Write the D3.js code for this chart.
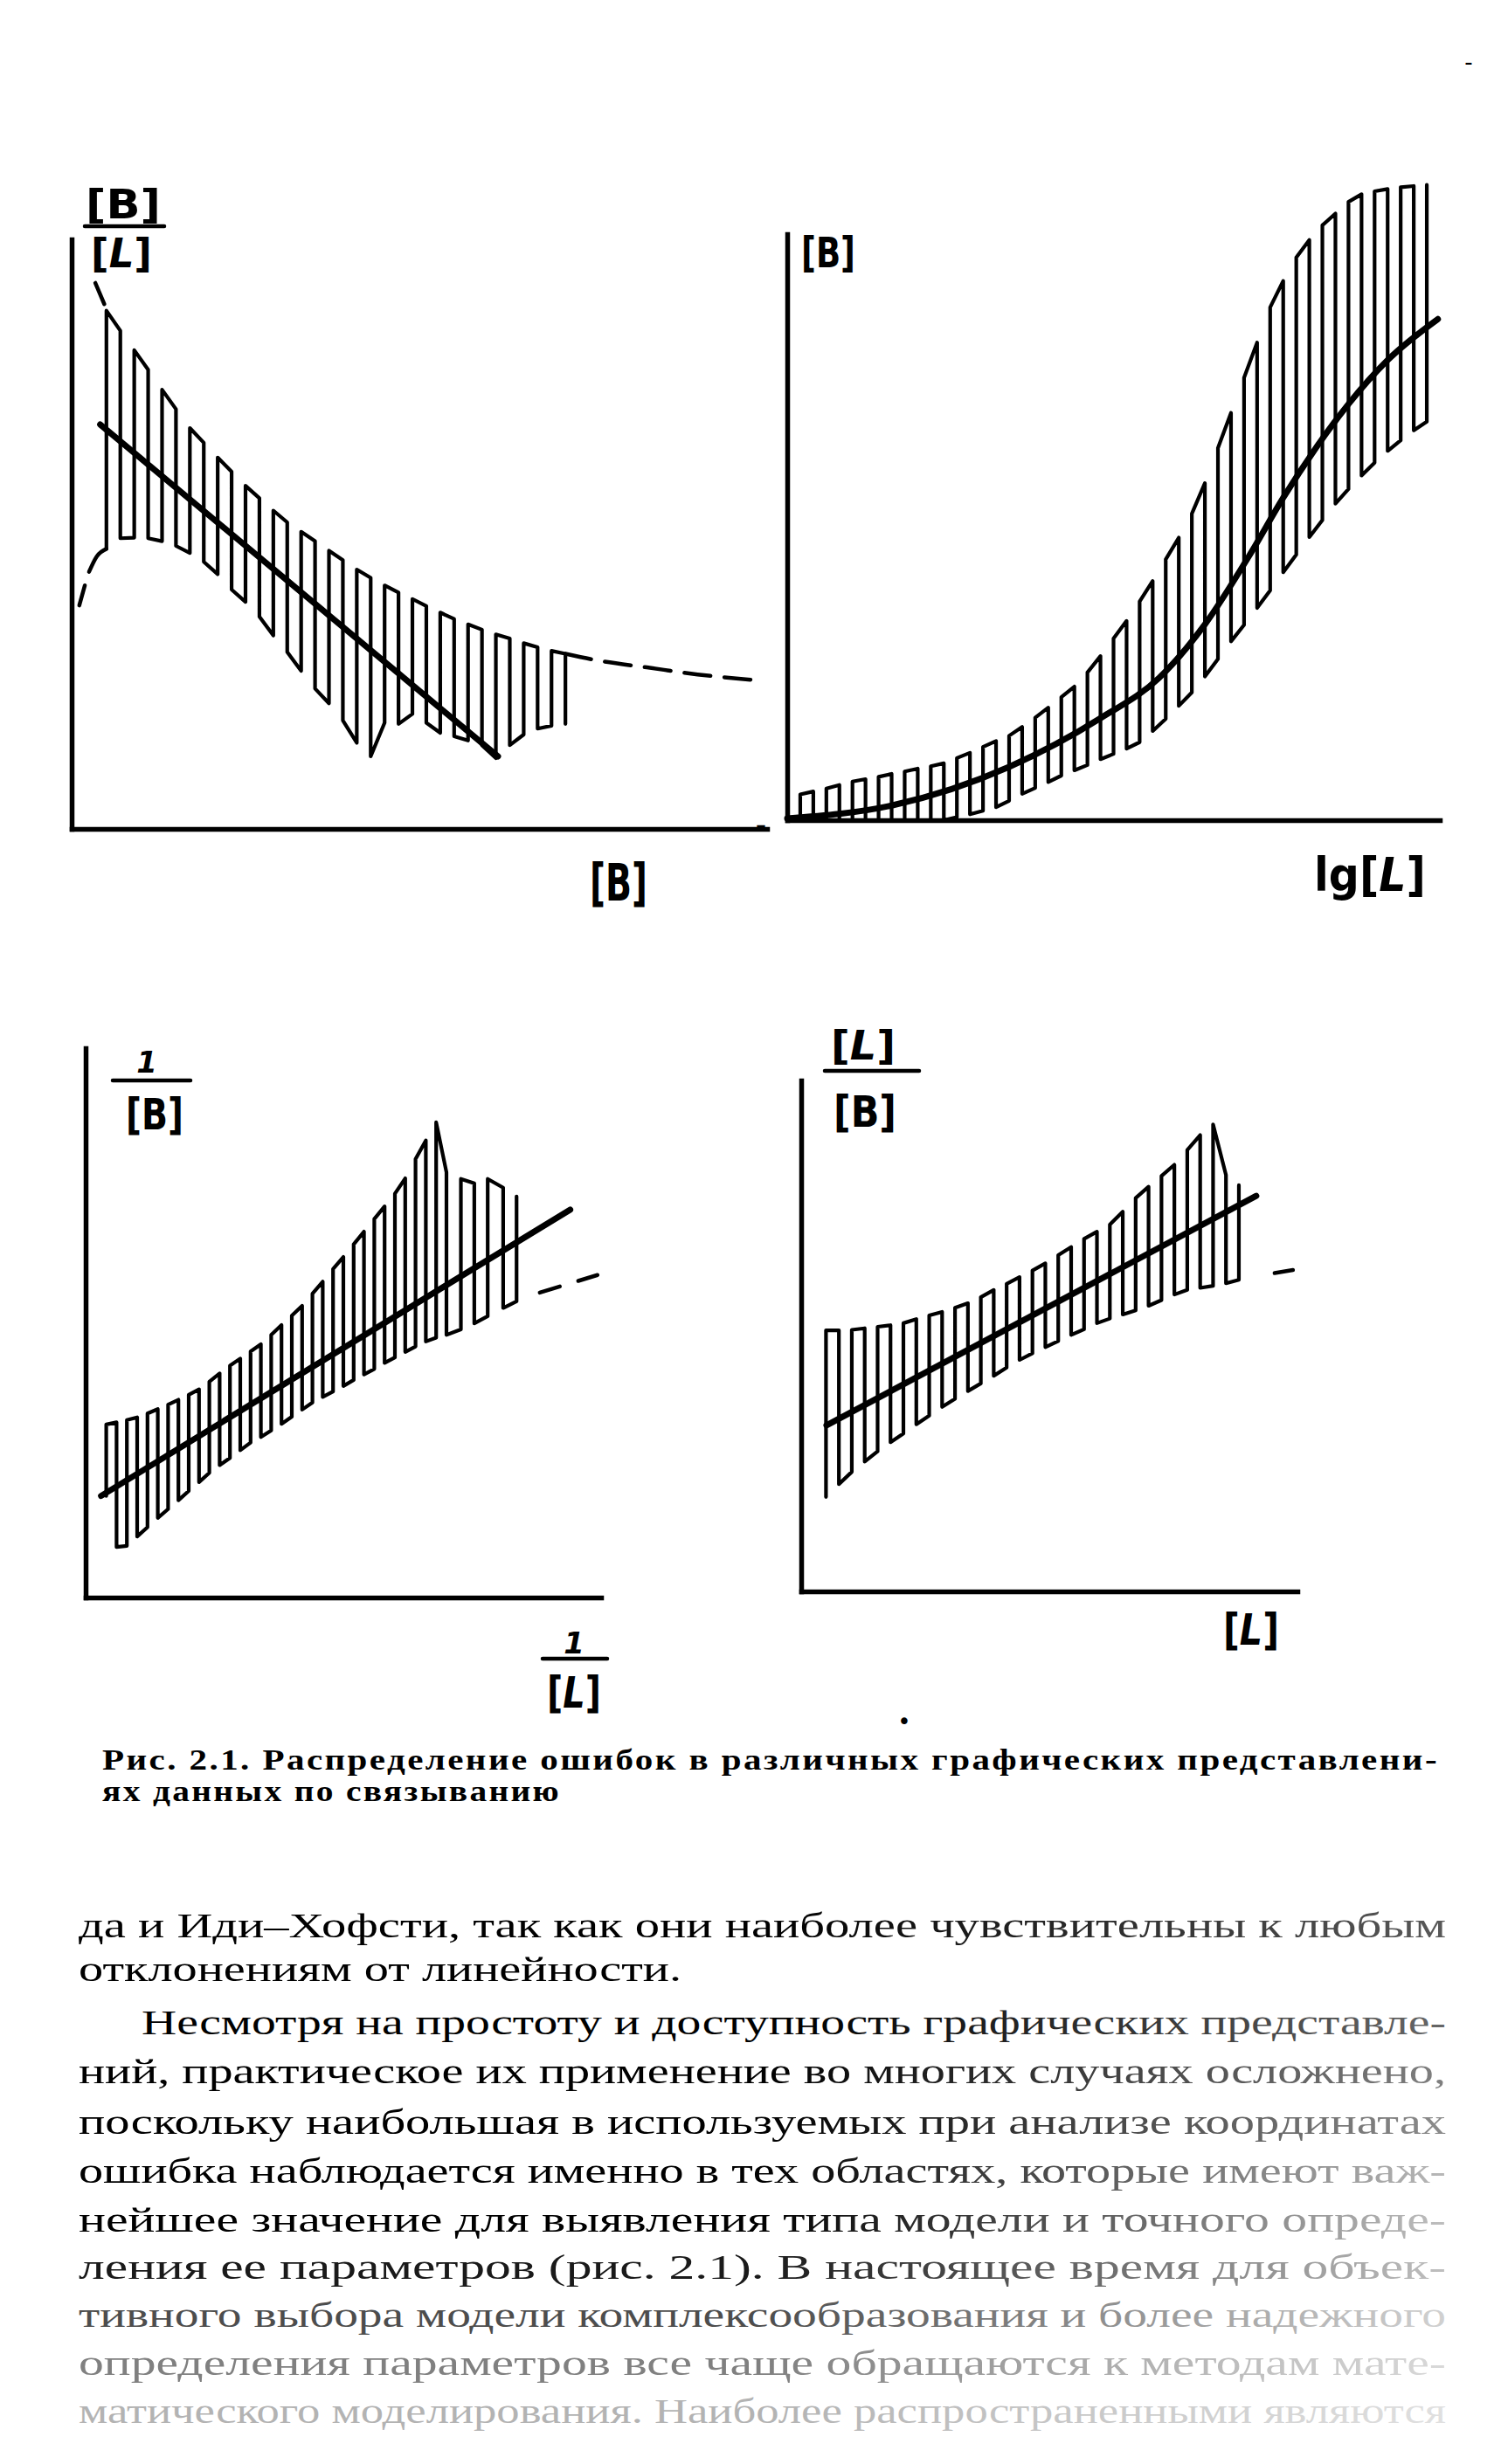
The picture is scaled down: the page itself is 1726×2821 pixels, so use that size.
<!DOCTYPE html>
<html lang="ru"><head><meta charset="utf-8"><title>Рис. 2.1</title>
<script src="https://cdn.jsdelivr.net/npm/d3@7/dist/d3.min.js"></script>
<style>html,body{margin:0;padding:0;background:#fff;}svg{display:block;}</style>
</head><body>
<svg id="page" width="1726" height="2821" viewBox="0 0 1726 2821"></svg>
<script>
// ================= DATA (each panel in its own axis units, 0–100) =================
// Panel 1: [B]/[L] vs [B]
const p1BarX   = [5,7,9,11,13,15,17,19,21,23,25,27,29,31,33,35,37,39,41,43,45,47,49,51,53,55,57,59,61,63,65,67,69,71];
const p1BarTop = [87.9,84.5,81.2,77.9,74.5,71.2,68.0,65.5,63.0,60.6,58.2,56.1,54.0,52.0,50.4,48.8,47.2,45.6,44.0,42.6,41.3,40.1,39.0,37.8,36.7,35.6,34.7,33.8,33.0,32.3,31.5,30.8,30.2,29.7];
const p1BarBot = [47.5,49.3,49.4,49.3,48.8,48.0,46.8,45.3,43.2,40.6,38.5,36.0,32.8,30.0,26.8,23.8,21.3,18.4,14.6,12.3,18.0,17.8,19.5,18.0,16.3,15.7,15.0,14.2,12.0,14.2,16.0,17.0,17.5,17.8];
const p1CenterX = [4.1, 61.3];
const p1CenterY = [68.6, 12.3];
const p1UpperTailX = [71, 76, 82.7, 90, 98.7];
const p1UpperTailY = [29.7, 28.5, 27.4, 26.2, 25.2];
const p1UpperHeadX = [3.4, 4.7];
const p1UpperHeadY = [92.6, 89.0];
const p1LowerHeadX = [1.1, 1.9];
const p1LowerHeadY = [37.9, 41.3];
const p1LowerArcX = [2.5, 3.6, 5.0];
const p1LowerArcY = [43.6, 46.2, 47.5];

// Panel 2: [B] vs lg[L]
const p2BarX   = [2,4,6,8,10,12,14,16,18,20,22,24,26,28,30,32,34,36,38,40,42,44,46,48,50,52,54,56,58,60,62,64,66,68,70,72,74,76,78,80,82,84,86,88,90,92,94,96,98];
const p2BarTop = [4.4,4.9,5.4,6.0,6.6,7.0,7.4,7.9,8.3,8.8,9.2,9.7,10.6,11.5,12.5,13.5,14.4,15.9,17.5,19.2,21.0,22.8,25.2,28.0,31.0,34.0,37.3,40.8,44.5,48.2,52.3,57.5,63.5,69.5,75.5,81.5,87.5,92.0,96.0,99.0,101.5,103.5,105.5,106.8,107.3,107.7,108.0,108.2,108.4];
const p2BarBot = [0,0,0,0,0,0,0,0,0,0,0,0,0.5,1.0,1.6,2.2,3.3,4.5,5.5,6.5,7.6,8.5,9.4,10.4,11.3,12.2,13.3,15.2,17.3,19.5,21.8,24.5,27.5,30.5,33.3,36.2,39.2,42.3,45.3,48.3,51.2,54.0,56.5,58.8,61.0,63.0,64.8,66.5,68.0];
const p2CenterX = [0, 16, 34, 48, 57, 64, 71, 76, 81, 86, 92, 99.7];
const p2CenterY = [0.3, 2.5, 9.1, 17.4, 24.3, 33.4, 45.5, 55.0, 63.5, 71.0, 78.5, 85.5];

// Panel 3: 1/[B] vs 1/[L]
const p3BarX   = [4,6,8,10,12,14,16,18,20,22,24,26,28,30,32,34,36,38,40,42,44,46,48,50,52,54,56,58,60,62,64,66,68,70,72.8,75.4,78,81,83.6];
const p3BarTop = [31.5,31.9,32.3,32.8,33.5,34.3,35.1,36.0,36.9,37.9,39.3,40.8,42.2,43.5,44.8,46.1,47.8,49.6,51.3,53.1,55.3,57.5,59.8,62.0,64.3,66.6,68.9,71.2,73.5,76.3,79.8,83.2,86.5,77.4,76.2,75.4,76.2,74.6,73.0];
const p3BarBot = [18.5,9.2,9.4,11.1,12.8,14.5,16.1,17.7,19.4,21.0,22.7,24.1,25.4,26.8,28.2,29.2,30.4,31.6,32.9,34.2,35.5,36.5,37.5,38.5,39.6,40.6,41.6,42.7,43.7,44.7,45.7,46.6,47.3,47.8,48.8,49.9,51.2,52.7,53.9];
const p3CenterX = [3, 94];
const p3CenterY = [18.5, 70.6];
const p3TailX = [88.1, 99.3];
const p3TailY = [55.5, 58.7];

// Panel 4: [L]/[B] vs [L]
const p4BarX   = [5.0,7.6,10.2,12.8,15.4,18.0,20.6,23.2,25.8,28.4,31.0,33.6,36.2,38.8,41.4,44.0,46.6,49.2,51.8,54.4,57.0,59.6,62.2,64.8,67.4,70.0,72.6,75.2,77.8,80.4,83.0,85.6,88.2];
const p4BarTop = [51.1,51.1,51.2,51.5,51.8,52.1,52.5,53.3,54.0,54.7,55.5,56.4,57.6,59.0,60.2,61.5,62.8,64.2,65.8,67.4,69.0,70.4,71.8,74.3,77.0,79.2,81.3,83.5,86.4,89.3,91.4,81.5,79.5];
const p4BarBot = [18.5,21.0,23.4,25.4,27.4,29.2,30.9,32.7,34.4,36.1,37.7,39.2,40.7,42.2,43.8,45.3,46.6,47.8,49.0,50.2,51.3,52.5,53.4,54.2,55.0,55.9,57.0,58.1,59.0,59.4,59.8,60.3,61.0];
const p4CenterX = [5.1, 91.7];
const p4CenterY = [32.5, 77.4];
const p4TailX = [95.4, 99.1];
const p4TailY = [62.3, 62.9];

// Axis titles (text parts; second item = italic)
const p1YNum = [["[",0],["B",0],["]",0]];
const p1YDen = [["[",0],["L",1],["]",0]];
const p1XTitle = [["[",0],["B",0],["]",0]];
const p2YTitle = [["[",0],["B",0],["]",0]];
const p2XTitle = [["lg",0],["[",0],["L",1],["]",0]];
const p3YNum = [["1",1]];
const p3YDen = [["[",0],["B",0],["]",0]];
const p3XNum = [["1",1]];
const p3XDen = [["[",0],["L",1],["]",0]];
const p4YNum = [["[",0],["L",1],["]",0]];
const p4YDen = [["[",0],["B",0],["]",0]];
const p4XTitle = [["[",0],["L",1],["]",0]];

// Caption and page text
const captionBold = "Рис. 2.1.";
const captionLines = [" Распределение ошибок в различных графических представлени-", "ях данных по связыванию"];
const bodyLines = [
  "да и Иди–Хофсти, так как они наиболее чувствительны к любым",
  "отклонениям от линейности.",
  "Несмотря на простоту и доступность графических представле-",
  "ний, практическое их применение во многих случаях осложнено,",
  "поскольку наибольшая в используемых при анализе координатах",
  "ошибка наблюдается именно в тех областях, которые имеют важ-",
  "нейшее значение для выявления типа модели и точного опреде-",
  "ления ее параметров (рис. 2.1). В настоящее время для объек-",
  "тивного выбора модели комплексообразования и более надежного",
  "определения параметров все чаще обращаются к методам мате-",
  "матического моделирования. Наиболее распространенными являются"
];
// print fading of the scan (0 = black ink, 1 = paper), left / right end of each line
const bodyFadeLeft  = [0,0,0,0,0,0,0,0.1,0.3,0.5,0.7];
const bodyFadeRight = [0.35,0,0.4,0.5,0.55,0.72,0.75,0.75,0.82,0.85,0.88];

// ================= LAYOUT =================
const svg = d3.select("#page");
svg.append("rect").attr("width",1726).attr("height",2821).attr("fill","#fff");
const INK = "#000";

const frames = {
  p1:{left:82,  right:878,  bottom:949,  top:274},
  p2:{left:901, right:1648, bottom:939,  top:268},
  p3:{left:98,  right:688,  bottom:1829, top:1200},
  p4:{left:917, right:1485, bottom:1822, top:1237}
};

function drawPanel(fr, d){
  const x = d3.scaleLinear().domain([0,100]).range([fr.left, fr.right]);
  const y = d3.scaleLinear().domain([0,100]).range([fr.bottom, fr.top]);
  const g = svg.append("g");
  g.append("g").attr("transform",`translate(0,${fr.bottom})`)
    .call(d3.axisBottom(x).tickValues([]).tickSizeOuter(0));
  g.append("g").attr("transform",`translate(${fr.left},0)`)
    .call(d3.axisLeft(y).tickValues([]).tickSizeOuter(0));
  g.selectAll(".domain").attr("stroke",INK).attr("stroke-width",5.5).attr("stroke-linecap","square");

  // hatching drawn as a meander: up one stroke, across, down the next
  const pts = [];
  d.barX.forEach((bx,i)=>{
    const lo = [x(bx), y(d.bot[i])], hi = [x(bx), y(d.top[i])];
    if (i % 2 === 0) pts.push(lo, hi); else pts.push(hi, lo);
  });
  g.append("path").attr("d", d3.line()(pts))
    .attr("fill","none").attr("stroke",INK).attr("stroke-width",4.2)
    .attr("stroke-linejoin","round").attr("stroke-linecap","round");

  const ln = d3.line().x(p=>x(p[0])).y(p=>y(p[1])).curve(d3.curveMonotoneX);
  g.append("path").attr("d", ln(d3.zip(d.centerX, d.centerY)))
    .attr("fill","none").attr("stroke",INK).attr("stroke-width",7).attr("stroke-linecap","round");

  (d.extras||[]).forEach(e=>{
    g.append("path").attr("d", ln(d3.zip(e.x, e.y)))
      .attr("fill","none").attr("stroke",INK).attr("stroke-width",4.5)
      .attr("stroke-linecap","round")
      .attr("stroke-dasharray", e.dash || null);
  });
}

drawPanel(frames.p1, {barX:p1BarX, top:p1BarTop, bot:p1BarBot, centerX:p1CenterX, centerY:p1CenterY,
  extras:[{x:p1UpperTailX,y:p1UpperTailY,dash:"30 16"},{x:p1UpperHeadX,y:p1UpperHeadY},
          {x:p1LowerHeadX,y:p1LowerHeadY},{x:p1LowerArcX,y:p1LowerArcY}]});
drawPanel(frames.p2, {barX:p2BarX, top:p2BarTop, bot:p2BarBot, centerX:p2CenterX, centerY:p2CenterY});
drawPanel(frames.p3, {barX:p3BarX, top:p3BarTop, bot:p3BarBot, centerX:p3CenterX, centerY:p3CenterY,
  extras:[{x:p3TailX,y:p3TailY,dash:"24 22"}]});
drawPanel(frames.p4, {barX:p4BarX, top:p4BarTop, bot:p4BarBot, centerX:p4CenterX, centerY:p4CenterY,
  extras:[{x:p4TailX,y:p4TailY}]});

// ---- axis titles in a narrow stencil-like face (condensed by a horizontal scale) ----
const TITLE_FONT = "'DejaVu Sans',sans-serif";
function title(parts, cx, y, fs, w){
  const t = svg.append("text").attr("x",0).attr("y",0).attr("text-anchor","middle")
    .attr("font-family",TITLE_FONT).attr("font-weight","bold").attr("font-size",fs).attr("fill",INK);
  parts.forEach(p=> t.append("tspan").text(p[0]).attr("font-style", p[1] ? "italic" : null));
  let sx = 1;
  if (w) { const nat = t.node().getComputedTextLength(); if (nat > 0) sx = w / nat; }
  t.attr("transform",`translate(${cx},${y}) scale(${sx},1)`);
}
function fracBar(x1,x2,y){
  svg.append("line").attr("x1",x1).attr("x2",x2).attr("y1",y).attr("y2",y)
    .attr("stroke",INK).attr("stroke-width",4.5).attr("stroke-linecap","round");
}
title(p1YNum, 141, 250, 46, 86); fracBar(97,188,259); title(p1YDen, 139, 306, 46, 70);
title(p1XTitle, 708, 1031, 58, 66);
title(p2YTitle, 948, 306, 48, 62);
title(p2XTitle, 1568, 1020, 54, 128);
title(p3YNum, 168, 1228, 34); fracBar(129,218,1237); title(p3YDen, 177, 1293, 50, 66);
title(p3XNum, 657, 1893, 34); fracBar(621,695,1899); title(p3XDen, 657, 1955, 50, 62);
title(p4YNum, 988, 1213, 46, 74); fracBar(944,1052,1226); title(p4YDen, 990, 1290, 50, 72);
title(p4XTitle, 1432, 1883, 50, 64);

// ---- stray specks of the scan ----
svg.append("text").attr("x",1681).attr("y",80).attr("text-anchor","middle")
  .attr("font-family","DejaVu Sans").attr("font-size",26).attr("fill",INK).text("-");
svg.append("text").attr("x",871).attr("y",956).attr("text-anchor","middle")
  .attr("font-family","DejaVu Sans").attr("font-weight","bold").attr("font-size",30).attr("fill",INK).text("-");
svg.append("text").attr("x",1035).attr("y",1980).attr("text-anchor","middle")
  .attr("font-family","DejaVu Sans").attr("font-size",26).attr("fill",INK).text("•");

// ---- caption ----
const SERIF = "'Liberation Serif','DejaVu Serif',serif";
const cap1 = svg.append("text").attr("x",117).attr("y",2026).attr("font-family",SERIF)
  .attr("font-size",34).attr("letter-spacing",2).attr("fill",INK)
  .attr("textLength",1530).attr("lengthAdjust","spacingAndGlyphs");
cap1.append("tspan").attr("font-weight","bold").text(captionBold);
cap1.append("tspan").attr("font-weight","bold").text(captionLines[0]);
svg.append("text").attr("x",117).attr("y",2062).attr("font-family",SERIF).attr("font-weight","bold")
  .attr("font-size",34).attr("letter-spacing",2).attr("fill",INK)
  .attr("textLength",525).attr("lengthAdjust","spacingAndGlyphs")
  .text(captionLines[1]);

// ---- body text ----
const defs = svg.append("defs");
const bodyX = [90,90,162,90,90,90,90,90,90,90,90];
const bodyBase = [2218,2268,2329,2385,2443,2499,2555,2609,2664,2719,2774];
const bodyRight = 1655;
const grey = v => { const k = Math.round(255*v); return `rgb(${k},${k},${k})`; };
bodyLines.forEach((s,i)=>{
  const gid = "fade"+i;
  const lg = defs.append("linearGradient").attr("id",gid).attr("x1",0).attr("x2",1).attr("y1",0).attr("y2",0);
  lg.append("stop").attr("offset",0).attr("stop-color",grey(bodyFadeLeft[i]));
  lg.append("stop").attr("offset",0.5).attr("stop-color",grey(bodyFadeLeft[i]));
  lg.append("stop").attr("offset",1).attr("stop-color",grey(bodyFadeRight[i]));
  const t = svg.append("text").attr("x",bodyX[i]).attr("y",bodyBase[i])
    .attr("font-family",SERIF).attr("font-size",41)
    .attr("fill",`url(#${gid})`)
    .text(s);
  const w = (i === 1) ? 690 : bodyRight - bodyX[i];
  t.attr("textLength",w).attr("lengthAdjust","spacingAndGlyphs");
});
</script>
</body></html>
